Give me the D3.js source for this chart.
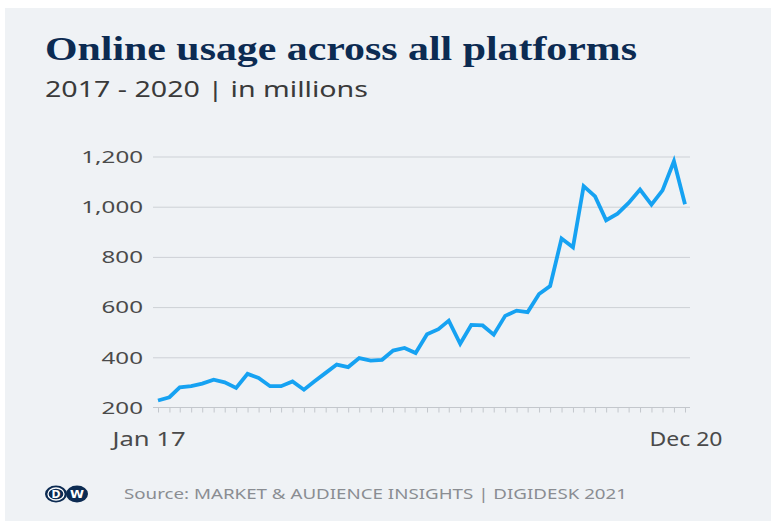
<!DOCTYPE html>
<html>
<head>
<meta charset="utf-8">
<script src="https://cdn.jsdelivr.net/npm/d3@7"></script>
<style>
  body { margin: 0; background: #fff; }
  svg { display: block; }
</style>
</head>
<body>
<svg id="chart"></svg>
<script>
var width = 775; // svg size
var height = 521;

// data: monthly values Jan 2017 - Dec 2020 (in millions)
var months = d3.range(48).map(function (i) { return new Date(2017, i, 1); });
var usage = [228, 241, 280, 285, 295, 311, 300, 278, 334, 318, 285, 285,
             304, 271, 304, 338, 371, 361, 397, 387, 390, 427, 437, 417,
             492, 512, 546, 454, 529, 527, 490, 565, 586, 580, 652, 684,
             873, 838, 1082, 1041, 946, 972, 1015, 1068, 1008, 1065, 1181, 1010];
var yTicks = [200, 400, 600, 800, 1000, 1200];
var xLabels = ["Jan 17", "Dec 20"];

// the picture is a bit wider than tall, text gets stretched sideways
var stretch = 1.42;
function widen(sel, f) {
	sel.each(function () {
		var len = this.getComputedTextLength();
		d3.select(this).attr("textLength", len * f).attr("lengthAdjust", "spacingAndGlyphs");
	});
}

var svg = d3.select("#chart")
	.attr("width", width)
	.attr("height", height);

// grey panel
svg.append("rect").attr("x", 5).attr("y", 8).attr("width", 766).attr("height", 513).attr("fill", "#eff2f5");

var x = d3.scaleTime()
	.domain([months[0], months[47]])
	.range([158, 685]);

var y = d3.scaleLinear()
	.domain([200, 1200])
	.range([407.5, 156.5]);

// title + subtitle
svg.append("text").attr("x", 45).attr("y", 60)
	.text("Online usage across all platforms")
	.attr("font-family", "Liberation Serif")
	.attr("font-weight", "bold")
	.attr("font-size", 33)
	.attr("fill", "#0c2b52")
	.attr("textLength", 592)
	.attr("lengthAdjust", "spacingAndGlyphs");

svg.append("text").attr("x", 45).attr("y", 97)
	.text("2017 - 2020 | in millions")
	.attr("font-family", "Noto Sans")
	.attr("font-size", 21)
	.attr("fill", "#3a3a3a")
	.attr("textLength", 323)
	.attr("lengthAdjust", "spacingAndGlyphs");

// y grid + labels
var yAxis = d3.axisLeft(y).tickValues(yTicks).tickSize(-537).tickFormat(d3.format(","));
var gy = svg.append("g").attr("transform", "translate(153,0)").call(yAxis);
gy.select(".domain").remove();
gy.selectAll(".tick line").attr("stroke", "#cdd1d6").attr("stroke-width", 1);
gy.selectAll(".tick line").filter(function (d) { return d == 200; }).remove();
gy.selectAll(".tick text")
	.attr("x", -10)
	.attr("dy", "0.34em")
	.attr("font-family", "Noto Sans")
	.attr("font-size", 17)
	.attr("fill", "#4a4a4a")
	.call(widen, stretch);

// x axis with monthly ticks
var xAxis = d3.axisBottom(x).tickValues(months).tickSize(5).tickFormat("");
var gx = svg.append("g").attr("transform", "translate(0," + y(200) + ")").call(xAxis);
gx.select(".domain").attr("d", "M153,0H690").attr("stroke", "#c3c7cc");
gx.selectAll(".tick line").attr("stroke", "#c3c7cc");

svg.selectAll(".xlabel").data(xLabels).enter().append("text")
	.attr("class", "xlabel")
	.attr("x", function (d, i) { return i == 0 ? x(months[0]) - 9 : x(months[47]) + 1; })
	.attr("y", 446)
	.attr("text-anchor", "middle")
	.attr("font-family", "Noto Sans")
	.attr("font-size", 19)
	.attr("fill", "#4a4a4a")
	.text(function (d) { return d; })
	.attr("textLength", 73)
	.attr("lengthAdjust", "spacingAndGlyphs");

// the line
var line = d3.line()
	.x(function (d, i) { return x(months[i]); })
	.y(function (d) { return y(d); });

svg.append("path").datum(usage)
	.attr("d", line)
	.attr("fill", "none")
	.attr("stroke", "#16a2f2")
	.attr("stroke-width", 3.8)
	.attr("stroke-linejoin", "miter");

// DW logo
var logo = svg.append("g").attr("transform", "translate(0,494)");
logo.append("ellipse").attr("cx", 56).attr("cy", 0).attr("rx", 11).attr("ry", 8.5).attr("fill", "#0c2b52");
logo.append("ellipse").attr("cx", 56).attr("cy", 0).attr("rx", 8).attr("ry", 6).attr("fill", "none").attr("stroke", "#fff").attr("stroke-width", 1.3);
logo.append("ellipse").attr("cx", 77).attr("cy", 0).attr("rx", 11).attr("ry", 8.5).attr("fill", "#0c2b52");
logo.append("text").attr("x", 56).attr("y", 3.6).attr("text-anchor", "middle")
	.attr("font-family", "DejaVu Sans").attr("font-weight", "bold").attr("font-size", 10).attr("fill", "#fff")
	.text("D").attr("textLength", 9).attr("lengthAdjust", "spacingAndGlyphs");
logo.append("text").attr("x", 77).attr("y", 3.6).attr("text-anchor", "middle")
	.attr("font-family", "DejaVu Sans").attr("font-weight", "bold").attr("font-size", 10).attr("fill", "#fff")
	.text("W").attr("textLength", 14).attr("lengthAdjust", "spacingAndGlyphs");

// source
svg.append("text").attr("x", 124).attr("y", 499)
	.text("Source: MARKET & AUDIENCE INSIGHTS | DIGIDESK 2021")
	.attr("font-family", "Noto Sans")
	.attr("font-size", 15)
	.attr("fill", "#8a8d92")
	.attr("textLength", 503)
	.attr("lengthAdjust", "spacingAndGlyphs");
</script>
</body>
</html>
